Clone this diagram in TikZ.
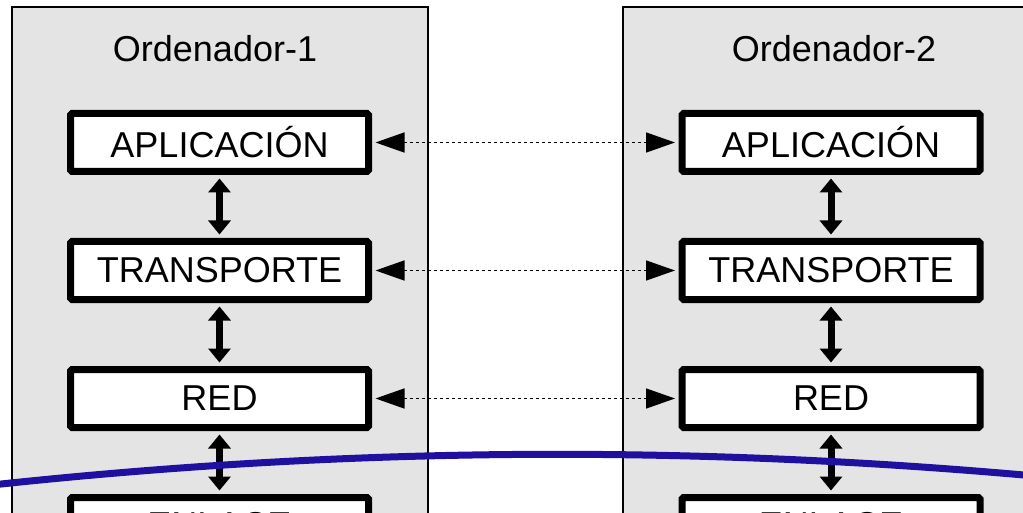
\documentclass[tikz,border=0pt]{standalone}
\usepackage{fontspec}
\setmainfont{Liberation Sans}
\newfontfamily\labfont{Liberation Sans}
\usetikzlibrary{arrows.meta}
\definecolor{panelgrey}{HTML}{E4E4E4}
\definecolor{curveblue}{HTML}{2010A0}
\tikzset{
  panel/.style={draw=black, line width=1.5pt, fill=panelgrey},
  layer/.style={draw=black, fill=white, line width=7pt, rounded corners=1.5pt,
    minimum width=298pt, minimum height=58pt, inner sep=0pt,
    font=\labfont\fontsize{36}{40}\selectfont},
  title/.style={inner sep=0pt, font=\labfont\fontsize{36}{40}\selectfont},
  vlink/.style={line width=7pt, {Triangle[width=22pt,length=14pt]}-{Triangle[width=22pt,length=14pt]},
    shorten <=3.5pt, shorten >=3.5pt},
  hlink/.style={line width=1.5pt, dash pattern=on 3pt off 3pt,
    {Triangle[width=20pt,length=29pt]}-{Triangle[width=20pt,length=29pt]},
    shorten <=3.5pt, shorten >=3.5pt},
  curve/.style={draw=curveblue, line width=7pt}
}
\begin{document}
\begin{tikzpicture}[x=1pt,y=-1pt]
\useasboundingbox (0,0) rectangle (1023,513);
\clip (0,0) rectangle (1023,513);
% panels
\draw[panel] (12,7) rectangle (428,540);
\draw[panel] (623,7) rectangle (1040,540);
% titles
\node[title] (t1) at (215,49) {Ordenador-1};
\node[title] (t2) at (834,49) {Ordenador-2};
% left stack
\node[layer] (a1) at (219.5,142.5) {APLICACIÓN};
\node[layer] (b1) at (219.5,270.5) {TRANSPORTE};
\node[layer] (c1) at (219.5,398.5) {RED};
\node[layer] (d1) at (219.5,526.5) {};
\node[font=\labfont\fontsize{36}{40}\selectfont, anchor=base, inner sep=0pt] (e1) at (219.5,537) {ENLACE};
% right stack
\node[layer] (a2) at (831,142.5) {APLICACIÓN};
\node[layer] (b2) at (831,270.5) {TRANSPORTE};
\node[layer] (c2) at (831,398.5) {RED};
\node[layer] (d2) at (831,526.5) {};
\node[font=\labfont\fontsize{36}{40}\selectfont, anchor=base, inner sep=0pt] (e2) at (831,537) {ENLACE};
% vertical links
\draw[vlink] (a1.south) -- (b1.north);
\draw[vlink] (b1.south) -- (c1.north);
\draw[vlink] (c1.south) -- (d1.north);
\draw[vlink] (a2.south) -- (b2.north);
\draw[vlink] (b2.south) -- (c2.north);
\draw[vlink] (c2.south) -- (d2.north);
% peer links
\draw[hlink] (a1.east) -- (a2.west);
\draw[hlink] (b1.east) -- (b2.west);
\draw[hlink] (c1.east) -- (c2.west);
% blue curve
\draw[curve] (-10,485.2) .. controls (341,447.3) and (682,444.3) .. (1035,476);
\end{tikzpicture}
\end{document}
